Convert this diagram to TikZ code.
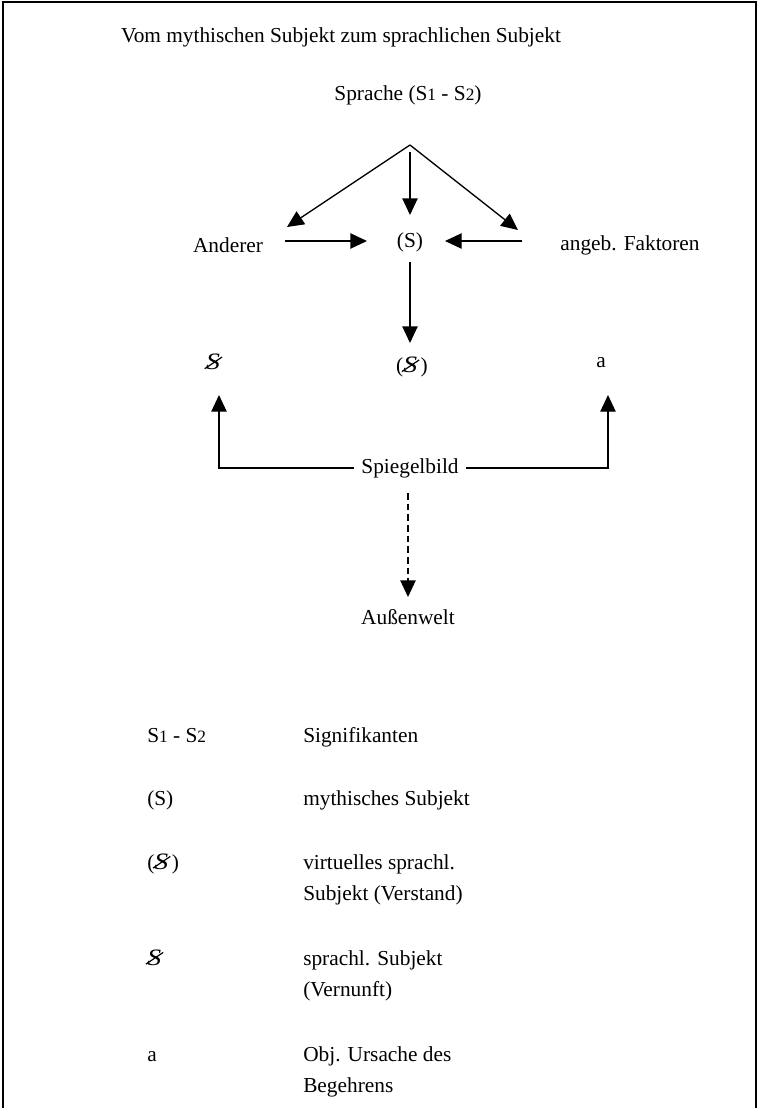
\documentclass[tikz,border=0pt]{standalone}
\usepackage{fontspec}
\setmainfont{Liberation Serif}
\usetikzlibrary{arrows.meta}
\newcommand\barS{\makebox[0pt][l]{\kern-0.08em\raisebox{0.02em}{\rotatebox{34}{\rule{0.98em}{0.055em}}}}\scalebox{1.3}[1.1]{\itshape S}}
\newcommand\sm[1]{{\fontsize{13}{14}\selectfont #1}}
\newcommand\twolines[2]{\vtop{\hbox{#1}\hbox{#2}}}
\tikzset{
  txt/.style={inner sep=0pt, font=\fontsize{16}{23.25}\selectfont},
  leg/.style={txt, anchor=base west},
  arr/.style={line width=1pt, -{Triangle[length=12.5pt,width=11.5pt]}},
}
\begin{document}
\begin{tikzpicture}[x=0.75pt,y=-0.75pt]
\useasboundingbox (0,0) rectangle (757,1108);
\draw[line width=1.2pt] (3,1108) -- (3,2) -- (756,2) -- (756,1108);

\node[txt] (title) at (341,37) {Vom mythischen Subjekt zum sprachlichen Subjekt};
\node[txt] (spr) at (408,95) {Sprache (S\sm{1} - S\sm{2})};
\coordinate (apex) at (410,145);
\coordinate (apexm) at (410,152);
\node[txt] (and) at (228,245) {Anderer};
\node[txt] (S) at (410,242) {(S)};
\node[txt] (ang) at (630,245) {angeb. Faktoren};
\node[txt] (bS) at (213,362) {\barS};
\node[txt] (pbS) at (412,367) {(\barS\,)};
\node[txt] (a) at (601,363) {a};
\node[txt, inner xsep=5pt] (sp) at (410,468) {Spiegelbild};
\node[txt] (aw) at (408,617) {Außenwelt};
\coordinate (Lt) at (287,227);
\coordinate (Rt) at (518,230);
\coordinate (Ain) at (285,241);
\coordinate (Aout) at (367,241);
\coordinate (Bin) at (522,241);
\coordinate (Bout) at (445,241);
\coordinate (Sd1) at (410,262);
\coordinate (Sd2) at (410,343);
\coordinate (bSt) at (219,395);
\coordinate (at) at (608,395);
\coordinate (d1) at (408,493);
\coordinate (d2) at (408,597);

\draw[arr] (apex) -- (Lt);
\draw[arr] (apexm) -- (S.north |- 0,215);
\draw[arr] (apex) -- (Rt);
\draw[arr] (Ain) -- (Aout);
\draw[arr] (Bin) -- (Bout);
\draw[arr] (Sd1) -- (Sd2);
\draw[arr] (sp.west) -| (bSt);
\draw[arr] (sp.east) -| (at);
\draw[arr, dash pattern=on 5pt off 3pt] (d1) -- (d2);

\node[leg] (l1a) at (147,742) {S\sm{1} - S\sm{2}};
\node[leg] (l1b) at (303,742) {Signifikanten};
\node[leg] (l2a) at (147,805) {(S)};
\node[leg] (l2b) at (303,805) {mythisches Subjekt};
\node[leg] (l3a) at (147,869) {(\barS\,)};
\node[leg] (l3b) at (303,869) {\twolines{virtuelles sprachl.}{Subjekt (Verstand)}};
\node[leg] (l4a) at (147,965) {\barS};
\node[leg] (l4b) at (303,965) {\twolines{sprachl. Subjekt}{(Vernunft)}};
\node[leg] (l5a) at (147,1061) {a};
\node[leg] (l5b) at (303,1061) {\twolines{Obj. Ursache des}{Begehrens}};
\end{tikzpicture}
\end{document}
